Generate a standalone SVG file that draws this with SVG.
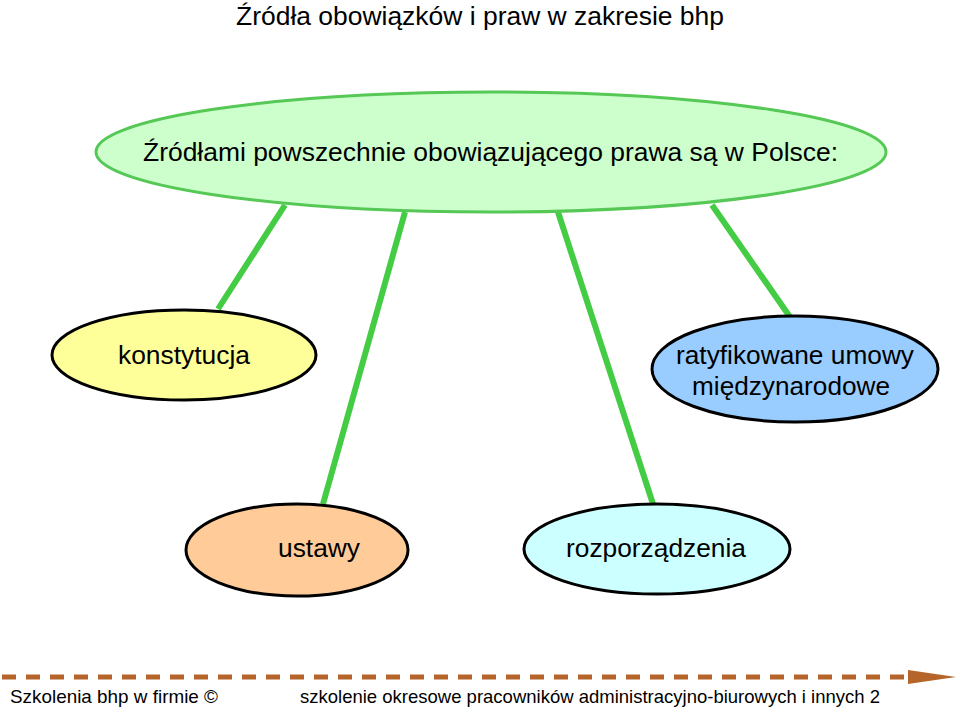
<svg xmlns="http://www.w3.org/2000/svg" width="960" height="708" viewBox="0 0 960 708">
<style>
text{font-family:"Liberation Sans",Arial,sans-serif;fill:#000}
.node{stroke:#000;stroke-width:3}
.conn{stroke:#44cc44;stroke-width:6;fill:none}
</style>
<rect width="960" height="708" fill="#fff"/>
<text x="236" y="25" font-size="25" textLength="488" lengthAdjust="spacingAndGlyphs">Źródła obowiązków i praw w zakresie bhp</text>
<g id="connectors">
<line class="conn" x1="285" y1="205" x2="218" y2="309"/>
<line class="conn" x1="405" y1="212" x2="323" y2="504"/>
<line class="conn" x1="558" y1="212" x2="653" y2="504"/>
<line class="conn" x1="712" y1="205" x2="790" y2="317"/>
</g>
<g id="root">
<ellipse cx="491" cy="152" rx="395" ry="60" fill="#ccffcc" stroke="#55c855" stroke-width="3"/>
<text x="143" y="161" font-size="26" textLength="695" lengthAdjust="spacingAndGlyphs">Źródłami powszechnie obowiązującego prawa są w Polsce:</text>
</g>
<g id="konstytucja">
<ellipse class="node" cx="184" cy="355" rx="132" ry="45" fill="#ffff99"/>
<text x="118" y="364" font-size="25" textLength="132" lengthAdjust="spacingAndGlyphs">konstytucja</text>
</g>
<g id="umowy">
<ellipse class="node" cx="795" cy="369" rx="143" ry="53" fill="#99ccff"/>
<text x="676" y="364" font-size="25" textLength="238" lengthAdjust="spacingAndGlyphs">ratyfikowane umowy</text>
<text x="692" y="395" font-size="25" textLength="198" lengthAdjust="spacingAndGlyphs">międzynarodowe</text>
</g>
<g id="ustawy">
<ellipse class="node" cx="297" cy="550" rx="111" ry="46" fill="#ffcc99"/>
<text x="278" y="557" font-size="25" textLength="82" lengthAdjust="spacingAndGlyphs">ustawy</text>
</g>
<g id="rozporzadzenia">
<ellipse class="node" cx="657" cy="549" rx="133" ry="45" fill="#ccffff"/>
<text x="566" y="557" font-size="25" textLength="180" lengthAdjust="spacingAndGlyphs">rozporządzenia</text>
</g>
<g id="footer">
<line x1="2" y1="677" x2="908" y2="677" stroke="#b5652a" stroke-width="5" stroke-dasharray="14,10"/>
<path d="M908,670 L956,677 L908,684 Z" fill="#b5652a"/>
<text x="10" y="703" font-size="19" textLength="208" lengthAdjust="spacingAndGlyphs">Szkolenia bhp w firmie ©</text>
<text x="300" y="703" font-size="19" textLength="580" lengthAdjust="spacingAndGlyphs">szkolenie okresowe pracowników administracyjno-biurowych i innych 2</text>
</g>
</svg>
